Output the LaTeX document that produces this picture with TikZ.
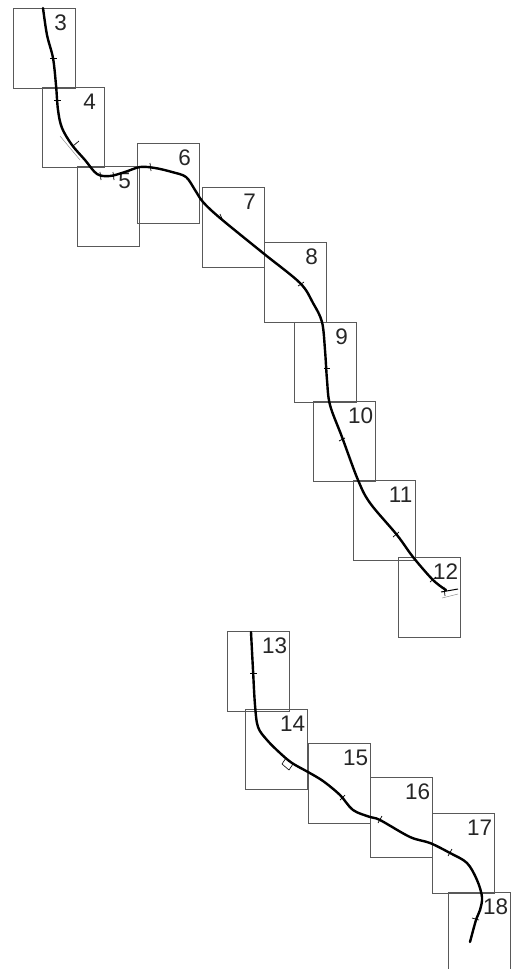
\documentclass[tikz,border=0pt]{standalone}
\usepackage{fontspec}
\setmainfont{Liberation Sans}
\begin{document}
\begin{tikzpicture}[x=1pt,y=-1pt,
  box/.style={draw=black!65,line width=0.6pt,minimum width=62pt,minimum height=80pt,inner sep=0pt,anchor=north west},
  num/.style={font=\fontsize{22.5}{22.5}\selectfont,text=black!85,inner sep=0pt},
  track/.style={line width=2.4pt,line cap=round,line join=round},
  tick/.style={line width=0.7pt},
  faint/.style={line width=0.5pt,black!45}]
\useasboundingbox (0,0) rectangle (517,969);
\foreach \n/\x/\y in {3/13/8,4/42/87,5/77/166,6/137/143,7/202/187,8/264/242,9/294/322,10/313/401,11/353/480,12/398/557,13/227/631,14/245/709,15/308/743,16/370/777,17/432/813,18/448/892}{
  \node[box] (b\n) at (\x,\y) {};
  \node[num] (l\n) at ([xshift=-15pt,yshift=-15pt]b\n.north east) {\n};
}
% upper track
\draw[track] plot[smooth,tension=0.55] coordinates {(43,8) (47,35) (53,58) (56,85) (58,110) (62,128) (72,145) (85,160) (97,174) (110,176) (125,172) (140,167) (155,168) (172,172) (186,177) (195,190) (203,202) (220,218) (263,253) (300,283) (313,303) (322,322) (325,350) (327,380) (330,405) (342,437) (358,480) (370,503) (397,535) (413,557) (433,580) (446,590)};
\draw[line width=1pt] (441,592) -- (458,589);
\draw[tick] (444,587) -- (445,596);
\draw[faint] (442,598) -- (458,594);
\draw[faint] (60,136) -- (80,160);
% lower track
\draw[track] plot[smooth,tension=0.55] coordinates {(251,632) (253,670) (255,705) (258,727) (267,740) (280,753) (292,763) (308,772) (323,781) (340,795) (353,810) (370,817) (380,820) (410,837) (430,843) (450,853) (467,863) (477,880) (482,897) (480,910) (476,920) (470,942)};
% ticks
\foreach \a/\b/\c/\d in {50/58/57/58, 54/100/61/100, 73/146/79/141, 100/172/101/180, 113/172/114/180, 150/163/151/171, 220/214/223/221, 298/286/304/282, 324/368/330/368, 339/441/345/438, 393/537/399/532, 430/582/436/577, 250/673/257/673, 340/800/345/795, 378/823/382/816, 448/856/452/849, 472/918/479/920}{
  \draw[tick] (\a,\b) -- (\c,\d);
}
\draw[line width=0.6pt] (286,758) -- (293,764) -- (289,770) -- (282,764) -- cycle;
\end{tikzpicture}
\end{document}
